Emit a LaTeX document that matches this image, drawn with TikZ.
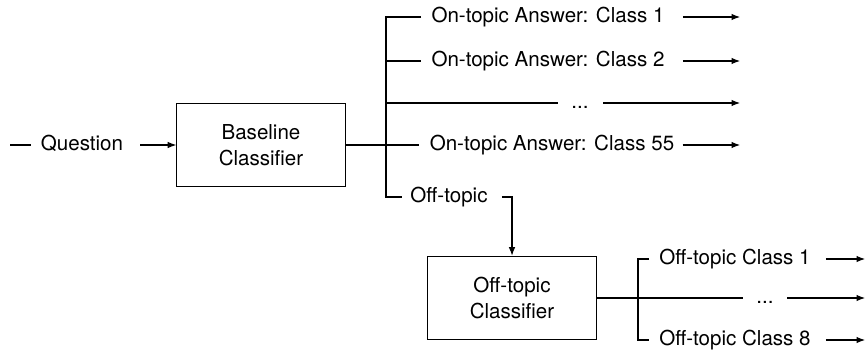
\documentclass[tikz,border=0pt]{standalone}
\usepackage{fontspec}
\setmainfont{TeX Gyre Heros}
\usetikzlibrary{arrows.meta}

\begin{document}
\begin{tikzpicture}[
            x=.02cm, y=-.02cm,
            every node/.style={font=\fontsize{11.7}{14.8}\selectfont},
            classifier/.style={draw, line width=.6pt, minimum width=3.37cm,
                minimum height=1.67cm, align=center, inner sep=0pt},
            label/.style={inner xsep=0pt, text height=8.4pt, text depth=2.3pt},
            line/.style={line width=.6pt},
            arrow/.style={line width=.6pt, -{Latex[length=.17cm, width=.13cm]}},
        ]
            \useasboundingbox (0, 0) rectangle (868, 351);
            % first stage
            \coordinate (qin) at (10, 145);
            \node[label] (question) at (82, 145) {Question};
            \node[classifier] (base) at (261, 145) {Baseline\\Classifier};
            \draw[line, shorten >=.2cm] (qin) -- (question.west);
            \draw[arrow, shorten <=.34cm] (question.east) -- (base.west);
            % on-topic answers
            \coordinate (split) at (386, 145);
            \node[label] (class1) at (548, 17) {On-topic Answer: Class 1};
            \node[label] (class2) at (548, 61) {On-topic Answer: Class 2};
            \node[label] (dots) at (580, 103) {...};
            \node[label] (class55) at (552, 145) {On-topic Answer: Class 55};
            \node[label] (offtopic) at (449, 197) {Off-topic};
            \draw[line, shorten >=.2cm] (base.east) -- (class55.west);
            \draw[line, shorten <=.2cm, shorten >=.16cm] (class1.west) -| (split) |- (offtopic.west);
            \draw[line, shorten >=.2cm] (split |- class2.west) -- (class2.west);
            \draw[line, shorten >=.27cm] (split |- dots) -- (dots.west);
            \coordinate (out1) at (740, 17);
            \coordinate (out2) at (740, 61);
            \coordinate (out3) at (740, 103);
            \coordinate (out55) at (740, 145);
            \draw[arrow, shorten <=.36cm] (class1.east) -- (out1);
            \draw[arrow, shorten <=.36cm] (class2.east) -- (out2);
            \draw[arrow, shorten <=.29cm] (dots.east) -- (out3);
            \draw[arrow, shorten <=.16cm] (class55.east) -- (out55);
            % off-topic stage
            \node[classifier] (offbase) at (512, 298) {Off-topic\\Classifier};
            \draw[arrow, shorten <=.28cm] (offtopic.east) -| (offbase.north);
            \coordinate (offsplit) at (638, 298);
            \node[label] (off1) at (735, 259) {Off-topic Class 1};
            \node[label] (offdots) at (765, 298) {...};
            \node[label] (off8) at (735, 340) {Off-topic Class 8};
            \draw[line, shorten >=.27cm] (offbase.east) -- (offdots.west);
            \draw[line, shorten <=.2cm, shorten >=.2cm] (off1.west) -| (offsplit) |- (off8.west);
            \coordinate (offout1) at (865, 259);
            \coordinate (offout2) at (865, 298);
            \coordinate (offout8) at (865, 340);
            \draw[arrow, shorten <=.3cm] (off1.east) -- (offout1);
            \draw[arrow, shorten <=.27cm] (offdots.east) -- (offout2);
            \draw[arrow, shorten <=.3cm] (off8.east) -- (offout8);
        \end{tikzpicture}
\end{document}
